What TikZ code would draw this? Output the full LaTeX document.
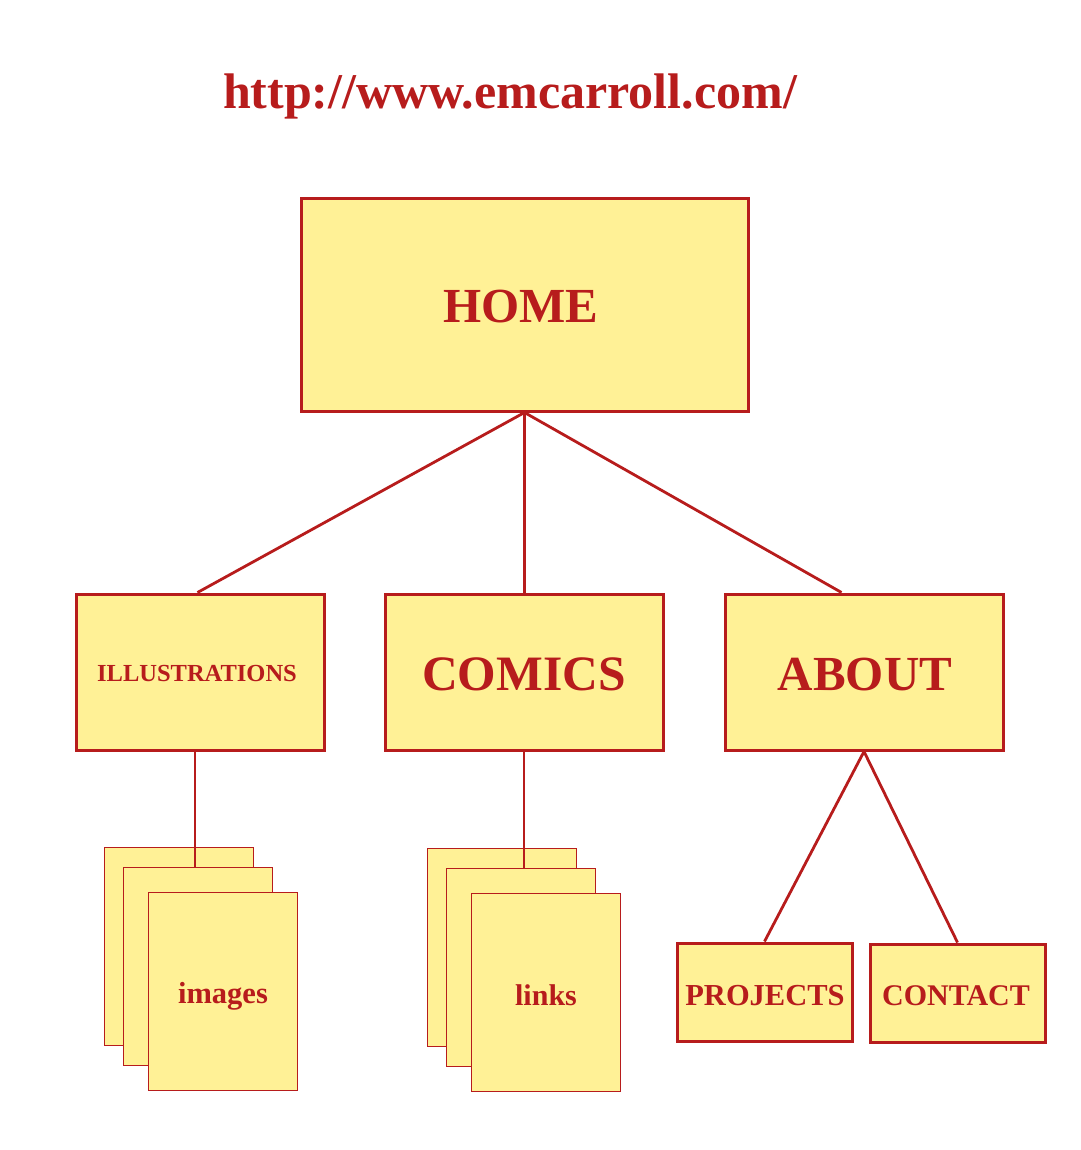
\documentclass[tikz,border=0pt]{standalone}
\usepackage{fontspec}
\setmainfont{Liberation Serif}
\usetikzlibrary{calc}
\definecolor{wred}{RGB}{183,28,28}
\definecolor{wfill}{RGB}{255,241,150}
\tikzset{
  pagebox/.style={draw=wred, fill=wfill, line width=3pt, inner sep=0pt},
  sheet/.style={draw=wred, fill=wfill, line width=0.9pt, inner sep=0pt, minimum width=149pt, minimum height=198pt},
  link/.style={draw=wred, line width=2.8pt},
  lbl/.style={text=wred, font=\bfseries, anchor=base, inner sep=0pt},
}
\begin{document}
\begin{tikzpicture}[x=1pt, y=-1pt]
\useasboundingbox (0,0) rectangle (1080,1150);
% title
\node[lbl, font=\bfseries\fontsize{50}{52}\selectfont] (title) at (510,109) {http://www.emcarroll.com/};
% boxes
\node[pagebox, minimum width=447pt, minimum height=212pt] (home) at (524.5,305) {};
\node[pagebox, minimum width=248pt, minimum height=156pt] (ill) at (200,672) {};
\node[pagebox, minimum width=278pt, minimum height=156pt] (com) at (524,672) {};
\node[pagebox, minimum width=278pt, minimum height=156pt] (abt) at (864,672) {};
\node[pagebox, minimum width=175pt, minimum height=98pt] (proj) at (764.5,992) {};
\node[pagebox, minimum width=175pt, minimum height=98pt] (cont) at (957.5,993) {};
% labels
\node[lbl, font=\bfseries\fontsize{49}{50}\selectfont] (homet) at (521,322) {HOME};
\node[lbl, font=\bfseries\fontsize{24.5}{26}\selectfont] (illt) at (197,681) {ILLUSTRATIONS};
\node[lbl, font=\bfseries\fontsize{49.5}{50}\selectfont] (comt) at (524,690) {COMICS};
\node[lbl, font=\bfseries\fontsize{49}{50}\selectfont] (abtt) at (865,690) {ABOUT};
\node[lbl, font=\bfseries\fontsize{30.5}{32}\selectfont] (projt) at (765,1005) {PROJECTS};
\node[lbl, font=\bfseries\fontsize{30}{32}\selectfont] (contt) at (956,1005) {CONTACT};
% connectors from home
\draw[link] (home.south) -- ($(ill.north west)!0.49!(ill.north east)$);
\draw[link] (home.south) -- (home.south |- com.north);
\draw[link] (home.south) -- ($(abt.north west)!0.42!(abt.north east)$);
% image sheets
\node[sheet] (img1) at (178.5,946) {};
\node[sheet] (img2) at (197.5,966.5) {};
\node[sheet] (img3) at (222.5,991.5) {};
\node[lbl, font=\bfseries\fontsize{30.5}{32}\selectfont] (imgt) at (223,1003) {images};
\coordinate (illb) at ($(ill.south west)!0.48!(ill.south east)$);
\draw[link] (illb) -- (illb |- img2.north);
% link sheets
\node[sheet] (lnk1) at (501.5,947) {};
\node[sheet] (lnk2) at (520.5,967.5) {};
\node[sheet] (lnk3) at (545.5,992.5) {};
\node[lbl, font=\bfseries\fontsize{30}{32}\selectfont] (lnkt) at (546,1005) {links};
\draw[link] (com.south) -- (com.south |- lnk2.north);
% about children
\draw[link] (abt.south) -- (proj.north);
\draw[link] (abt.south) -- (cont.north);
\end{tikzpicture}
\end{document}
